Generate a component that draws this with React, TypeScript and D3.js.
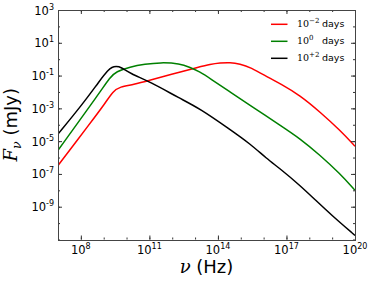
import React, { useEffect, useRef } from "react";
import * as d3 from "d3";

// log10(nu / Hz) and log10(F_nu / mJy)
const redLogNu = [7.0, 8.4, 9.06, 9.41, 9.71, 10.3, 11.03, 11.9, 13.21, 13.65, 14.1, 14.53, 14.97, 15.4, 16.28, 16.72, 17.59, 18.47, 19.34, 20.0];
const redLogF = [-6.49, -3.92, -2.7, -1.95, -1.68, -1.55, -1.28, -0.95, -0.47, -0.32, -0.23, -0.2, -0.29, -0.47, -1.17, -1.48, -2.2, -3.22, -4.33, -5.31];

const greenLogNu = [7.0, 8.84, 9.28, 9.54, 10.15, 10.81, 11.46, 12.34, 12.78, 13.21, 13.65, 14.53, 15.4, 16.72, 17.59, 18.47, 19.34, 20.0];
const greenLogF = [-5.56, -2.01, -1.1, -0.76, -0.47, -0.3, -0.2, -0.26, -0.51, -0.77, -1.17, -1.99, -2.81, -4.03, -4.84, -5.86, -6.98, -8.0];

const blackLogNu = [7.0, 8.09, 8.84, 9.19, 9.36, 9.54, 9.76, 10.15, 11.03, 12.34, 13.21, 14.53, 15.4, 16.13, 16.72, 17.59, 18.25, 19.03, 20.0];
const blackLogF = [-4.57, -2.72, -1.28, -0.67, -0.48, -0.44, -0.48, -0.87, -1.38, -2.4, -3.01, -4.29, -5.15, -6.06, -6.68, -7.7, -8.57, -9.59, -10.75];

const seriesColors = ["#ff0000", "#008000", "#000000"];
const legendExps = ["\u22122", "0", "+2"];

const xMajorExps = [8, 11, 14, 17, 20];
const yMajorExps = [3, 1, -1, -3, -5, -7, -9];

function App() {
  const svgRef = useRef<SVGSVGElement>(null);
  const width = 374;
  const height = 282;
  const margin = { top: 10, right: 19, bottom: 42.5, left: 58 };

  useEffect(() => {
    const svg = d3.select(svgRef.current);
    svg.selectAll("*").remove();

    const x = d3.scaleLog().domain([1e7, 1e20]).range([margin.left, width - margin.right]);
    const y = d3.scaleLog().domain([1e-11, 1e3]).range([height - margin.bottom, margin.top]);
    const x0 = margin.left, x1 = width - margin.right;
    const y0 = height - margin.bottom, y1 = margin.top;

    svg.append("clipPath").attr("id", "plotclip")
      .append("rect").attr("x", x0).attr("y", y1).attr("width", x1 - x0).attr("height", y0 - y1);

    const series = [
      { nu: redLogNu, f: redLogF },
      { nu: greenLogNu, f: greenLogF },
      { nu: blackLogNu, f: blackLogF },
    ];

    // basis curve smooths out the reading noise a little
    const line = d3.line<[number, number]>()
      .x((d) => x(10 ** d[0]))
      .y((d) => y(10 ** d[1]))
      .curve(d3.curveBasis);

    series.forEach((s, i) => {
      const pts: [number, number][] = s.nu.map((v, j) => [v, s.f[j]]);
      svg.append("path")
        .attr("clip-path", "url(#plotclip)")
        .attr("fill", "none")
        .attr("stroke", seriesColors[i])
        .attr("stroke-width", 1.5)
        .attr("d", line(pts));
    });

    // ticks, inward on all four sides
    const xMinor = d3.range(7, 21).map((e) => 10 ** e);
    const xMajor = xMajorExps.map((e) => 10 ** e);
    const yMinor = d3.range(-11, 4).map((e) => 10 ** e);
    const yMajor = yMajorExps.map((e) => 10 ** e);

    const addAxis = (axis: any, tx: string) => {
      svg.append("g").attr("transform", tx).attr("color", "#333")
        .call(axis)
        .call((g: any) => g.select(".domain").remove());
    };
    const nofmt = () => "";
    addAxis(d3.axisBottom(x).tickValues(xMinor).tickSize(-2).tickFormat(nofmt), `translate(0,${y0})`);
    addAxis(d3.axisBottom(x).tickValues(xMajor).tickSize(-4).tickFormat(nofmt), `translate(0,${y0})`);
    addAxis(d3.axisTop(x).tickValues(xMinor).tickSize(-2).tickFormat(nofmt), `translate(0,${y1})`);
    addAxis(d3.axisTop(x).tickValues(xMajor).tickSize(-4).tickFormat(nofmt), `translate(0,${y1})`);
    addAxis(d3.axisLeft(y).tickValues(yMinor).tickSize(-2).tickFormat(nofmt), `translate(${x0},0)`);
    addAxis(d3.axisLeft(y).tickValues(yMajor).tickSize(-4).tickFormat(nofmt), `translate(${x0},0)`);
    addAxis(d3.axisRight(y).tickValues(yMinor).tickSize(-2).tickFormat(nofmt), `translate(${x1},0)`);
    addAxis(d3.axisRight(y).tickValues(yMajor).tickSize(-4).tickFormat(nofmt), `translate(${x1},0)`);

    // frame
    svg.append("rect")
      .attr("x", Math.round(x0) + 0.5).attr("y", Math.round(y1) + 0.5)
      .attr("width", Math.round(x1) - Math.round(x0)).attr("height", Math.round(y0) - Math.round(y1))
      .attr("fill", "none").attr("stroke", "#444").attr("stroke-width", 1);

    // tick labels
    const xl = svg.append("g").attr("font-family", "DejaVu Sans").attr("fill", "#000");
    xMajorExps.forEach((e) => {
      const t = xl.append("text").attr("x", x(10 ** e)).attr("y", y0 + 14.5).attr("text-anchor", "middle");
      t.append("tspan").attr("font-size", 11.5).text("10");
      t.append("tspan").attr("font-size", 8).attr("dy", -5).text(String(e));
    });
    const yl = svg.append("g").attr("font-family", "DejaVu Sans").attr("fill", "#000");
    yMajorExps.forEach((e) => {
      const t = yl.append("text").attr("x", x0 - 4).attr("y", y(10 ** e) + 4.5).attr("text-anchor", "end");
      t.append("tspan").attr("font-size", 11.5).text("10");
      t.append("tspan").attr("font-size", 8).attr("dy", -5).text(String(e));
    });

    // axis titles
    const xt = svg.append("text").attr("x", (x0 + x1) / 2).attr("y", 273).attr("text-anchor", "middle").attr("font-size", 18);
    xt.append("tspan").attr("font-family", "DejaVu Serif").attr("font-style", "italic").text("\u03bd");
    xt.append("tspan").attr("font-family", "DejaVu Sans").text(" (Hz)");

    const yt = svg.append("text")
      .attr("transform", `translate(17,${(y0 + y1) / 2}) rotate(-90)`)
      .attr("text-anchor", "middle").attr("font-size", 18);
    yt.append("tspan").attr("font-family", "DejaVu Serif").attr("font-style", "italic").text("F");
    yt.append("tspan").attr("font-family", "DejaVu Serif").attr("font-style", "italic").attr("font-size", 12.5).attr("dy", 4).text("\u03bd");
    yt.append("tspan").attr("font-family", "DejaVu Sans").attr("dy", -4).text(" (mJy)");

    // legend
    const lg = svg.append("g");
    legendExps.forEach((e, i) => {
      const ly = 24.3 + i * 17;
      lg.append("line").attr("x1", 271).attr("x2", 287.5).attr("y1", ly).attr("y2", ly)
        .attr("stroke", seriesColors[i]).attr("stroke-width", 1.5);
      const t = lg.append("text").attr("x", 297).attr("y", ly + 3);
      t.append("tspan").attr("font-family", "DejaVu Serif").attr("font-size", 9.5).text("10");
      t.append("tspan").attr("font-family", "DejaVu Serif").attr("font-size", 7).attr("dy", -4).text(e);
      t.append("tspan").attr("font-family", "DejaVu Sans").attr("font-size", 9.5).attr("dy", 4).attr("x", 322).text("days");
    });
  }, []);

  return (
    <svg ref={svgRef} width={width} height={height}
      style={{ position: "absolute", left: 0, top: 0, background: "#fff" }}></svg>
  );
}

export default App;
